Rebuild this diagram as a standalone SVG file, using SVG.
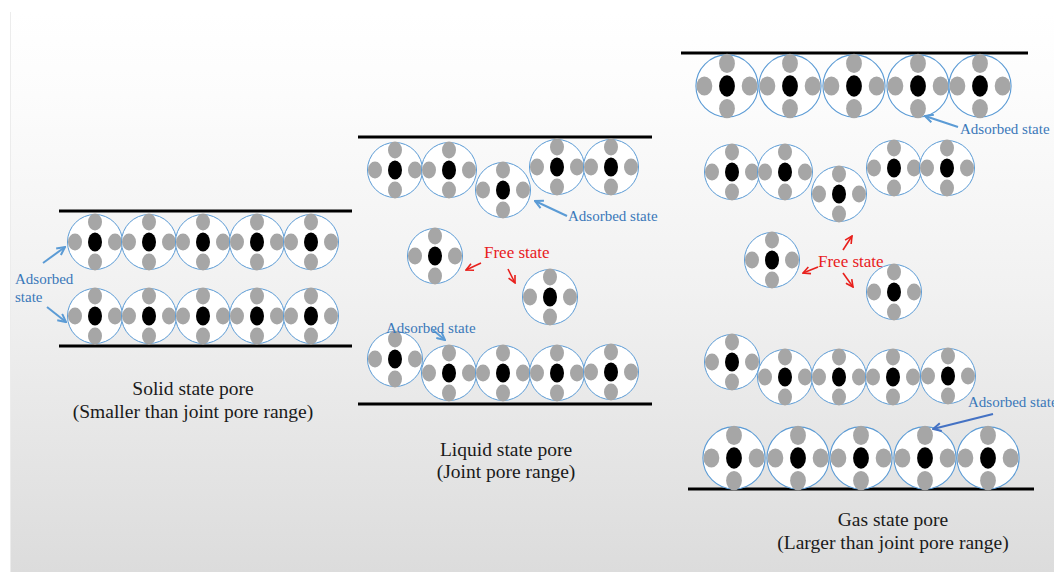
<svg xmlns="http://www.w3.org/2000/svg" xmlns:xlink="http://www.w3.org/1999/xlink" width="1054" height="572" viewBox="0 0 1054 572">
  <style>
    .shell { fill: #ffffff; stroke: #5b9bd5; stroke-width: 1; }
    .atom { fill: #a6a6a6; }
    .core { fill: #000000; }
    .wall { stroke: #000000; stroke-width: 3; fill: none; }
    .lbl { font-family: "Liberation Serif", "Times New Roman", serif; fill: #1a1a1a; font-size: 19.5px; text-anchor: middle; }
    .ads { font-family: "Liberation Serif", "Times New Roman", serif; fill: #3a78b9; font-size: 15px; }
    .free { font-family: "Liberation Serif", "Times New Roman", serif; fill: #e8201c; font-size: 17px; }
    .arr-b { stroke: #5b9bd5; stroke-width: 2; fill: none; marker-end: url(#headB); }
    .arr-d { stroke: #4472c4; stroke-width: 2; fill: none; marker-end: url(#headD); }
    .arr-r { stroke: #e8201c; stroke-width: 1.6; fill: none; marker-end: url(#headR); }
  </style>
  <defs>
    <linearGradient id="bg" x1="0" y1="0" x2="0" y2="1">
      <stop offset="0" stop-color="#ffffff"/>
      <stop offset="0.15" stop-color="#fcfcfc"/>
      <stop offset="0.5" stop-color="#f1f1f1"/>
      <stop offset="1" stop-color="#dcdcdc"/>
    </linearGradient>
    <marker id="headB" viewBox="0 0 10 10" refX="9" refY="5" markerWidth="10" markerHeight="10" markerUnits="userSpaceOnUse" orient="auto">
      <path d="M1,1 L9,5 L1,9" fill="none" stroke="#5b9bd5" stroke-width="2"/>
    </marker>
    <marker id="headD" viewBox="0 0 10 10" refX="9" refY="5" markerWidth="10" markerHeight="10" markerUnits="userSpaceOnUse" orient="auto">
      <path d="M1,1 L9,5 L1,9" fill="none" stroke="#4472c4" stroke-width="2"/>
    </marker>
    <marker id="headR" viewBox="0 0 10 10" refX="9" refY="5" markerWidth="9" markerHeight="9" markerUnits="userSpaceOnUse" orient="auto">
      <path d="M1,1 L9,5 L1,9" fill="none" stroke="#e8201c" stroke-width="1.8"/>
    </marker>
    <!-- one molecule: shell with central core and four satellite atoms -->
    <g id="mol">
      <circle r="27.5" class="shell"/>
      <ellipse cx="-20" cy="0" rx="7" ry="8.5" class="atom"/>
      <ellipse cx="20" cy="0" rx="7" ry="8.5" class="atom"/>
      <ellipse cx="0" cy="-20" rx="7" ry="8.5" class="atom"/>
      <ellipse cx="0" cy="20" rx="7" ry="8.5" class="atom"/>
      <ellipse cx="0" cy="0" rx="7" ry="9.5" class="core"/>
    </g>
  </defs>

  <!-- background panel -->
  <rect x="0" y="0" width="1054" height="572" fill="#ffffff"/>
  <rect x="10" y="12" width="1044" height="560" fill="url(#bg)"/>
  <line x1="10.5" y1="12" x2="10.5" y2="572" stroke="#ececec" stroke-width="1"/>

  <!-- pore walls -->
  <g id="walls">
    <line class="wall" x1="59" y1="211" x2="352" y2="211"/>
    <line class="wall" x1="59" y1="346" x2="352" y2="346"/>
    <line class="wall" x1="358" y1="137" x2="652" y2="137"/>
    <line class="wall" x1="358" y1="404" x2="652" y2="404"/>
    <line class="wall" x1="681" y1="53" x2="1028" y2="53"/>
    <line class="wall" x1="688" y1="489" x2="1034" y2="489"/>
  </g>

  <!-- solid state pore -->
  <g id="solid-top-1"><use href="#mol" transform="translate(95,242)"/></g>
  <g id="solid-top-2"><use href="#mol" transform="translate(149,242)"/></g>
  <g id="solid-top-3"><use href="#mol" transform="translate(203,242)"/></g>
  <g id="solid-top-4"><use href="#mol" transform="translate(257,242)"/></g>
  <g id="solid-top-5"><use href="#mol" transform="translate(311,242)"/></g>
  <g id="solid-bot-1"><use href="#mol" transform="translate(95,316)"/></g>
  <g id="solid-bot-2"><use href="#mol" transform="translate(149,316)"/></g>
  <g id="solid-bot-3"><use href="#mol" transform="translate(203,316)"/></g>
  <g id="solid-bot-4"><use href="#mol" transform="translate(257,316)"/></g>
  <g id="solid-bot-5"><use href="#mol" transform="translate(311,316)"/></g>

  <!-- liquid state pore -->
  <g id="liq-top-1"><use href="#mol" transform="translate(395,170)"/></g>
  <g id="liq-top-2"><use href="#mol" transform="translate(449,170)"/></g>
  <g id="liq-top-3"><use href="#mol" transform="translate(503,190)"/></g>
  <g id="liq-top-4"><use href="#mol" transform="translate(557,167)"/></g>
  <g id="liq-top-5"><use href="#mol" transform="translate(611,167)"/></g>
  <g id="liq-free-1"><use href="#mol" transform="translate(435,256)"/></g>
  <g id="liq-free-2"><use href="#mol" transform="translate(550,297)"/></g>
  <g id="liq-bot-1"><use href="#mol" transform="translate(395,359)"/></g>
  <g id="liq-bot-2"><use href="#mol" transform="translate(449,373)"/></g>
  <g id="liq-bot-3"><use href="#mol" transform="translate(503,373)"/></g>
  <g id="liq-bot-4"><use href="#mol" transform="translate(557,373)"/></g>
  <g id="liq-bot-5"><use href="#mol" transform="translate(611,372)"/></g>

  <!-- gas state pore -->
  <g id="gas-r1-1"><use href="#mol" transform="translate(727,86) scale(1.13)"/></g>
  <g id="gas-r1-2"><use href="#mol" transform="translate(790,86) scale(1.13)"/></g>
  <g id="gas-r1-3"><use href="#mol" transform="translate(854,86) scale(1.13)"/></g>
  <g id="gas-r1-4"><use href="#mol" transform="translate(918,86) scale(1.13)"/></g>
  <g id="gas-r1-5"><use href="#mol" transform="translate(980,86) scale(1.13)"/></g>
  <g id="gas-r2-1"><use href="#mol" transform="translate(732,172)"/></g>
  <g id="gas-r2-2"><use href="#mol" transform="translate(785,172)"/></g>
  <g id="gas-r2-3"><use href="#mol" transform="translate(839,194)"/></g>
  <g id="gas-r2-4"><use href="#mol" transform="translate(894,168)"/></g>
  <g id="gas-r2-5"><use href="#mol" transform="translate(947,168)"/></g>
  <g id="gas-free-1"><use href="#mol" transform="translate(772,260)"/></g>
  <g id="gas-free-2"><use href="#mol" transform="translate(894,292)"/></g>
  <g id="gas-r3-1"><use href="#mol" transform="translate(732,362)"/></g>
  <g id="gas-r3-2"><use href="#mol" transform="translate(785,377)"/></g>
  <g id="gas-r3-3"><use href="#mol" transform="translate(839,377)"/></g>
  <g id="gas-r3-4"><use href="#mol" transform="translate(893,377)"/></g>
  <g id="gas-r3-5"><use href="#mol" transform="translate(948,376)"/></g>
  <g id="gas-r4-1"><use href="#mol" transform="translate(734,458) scale(1.13)"/></g>
  <g id="gas-r4-2"><use href="#mol" transform="translate(798,458) scale(1.13)"/></g>
  <g id="gas-r4-3"><use href="#mol" transform="translate(861,458) scale(1.13)"/></g>
  <g id="gas-r4-4"><use href="#mol" transform="translate(925,458) scale(1.13)"/></g>
  <g id="gas-r4-5"><use href="#mol" transform="translate(988,458) scale(1.13)"/></g>

  <!-- pointer arrows -->
  <g id="connectors">
    <line class="arr-b" x1="43" y1="263" x2="65" y2="247"/>
    <line class="arr-b" x1="47" y1="307" x2="66" y2="322"/>
    <line class="arr-b" x1="567" y1="216" x2="535" y2="201"/>
    <line class="arr-b" x1="433" y1="330" x2="445" y2="340"/>
    <line class="arr-r" x1="481" y1="263" x2="466" y2="270"/>
    <line class="arr-r" x1="508" y1="269" x2="515" y2="283"/>
    <line class="arr-b" x1="958" y1="127" x2="925" y2="116"/>
    <line class="arr-r" x1="843" y1="250" x2="852" y2="236"/>
    <line class="arr-r" x1="818" y1="267" x2="803" y2="273"/>
    <line class="arr-r" x1="843" y1="273" x2="853" y2="287"/>
    <line class="arr-d" x1="993" y1="414" x2="933" y2="429"/>
  </g>

  <!-- state labels -->
  <g id="labels">
    <text class="ads" x="15" y="284">Adsorbed</text>
    <text class="ads" x="15" y="302">state</text>
    <text class="ads" x="568" y="221">Adsorbed state</text>
    <text class="ads" x="386" y="333">Adsorbed state</text>
    <text class="free" x="484" y="258">Free state</text>
    <text class="ads" x="960" y="134">Adsorbed state</text>
    <text class="free" x="818" y="267">Free state</text>
    <text class="ads" x="968" y="407">Adsorbed state</text>

    <text class="lbl" x="193" y="395">Solid state pore</text>
    <text class="lbl" x="193" y="418">(Smaller than joint pore range)</text>
    <text class="lbl" x="506" y="456">Liquid state pore</text>
    <text class="lbl" x="506" y="478">(Joint pore range)</text>
    <text class="lbl" x="893" y="526">Gas state pore</text>
    <text class="lbl" x="893" y="549">(Larger than joint pore range)</text>
  </g>
</svg>
